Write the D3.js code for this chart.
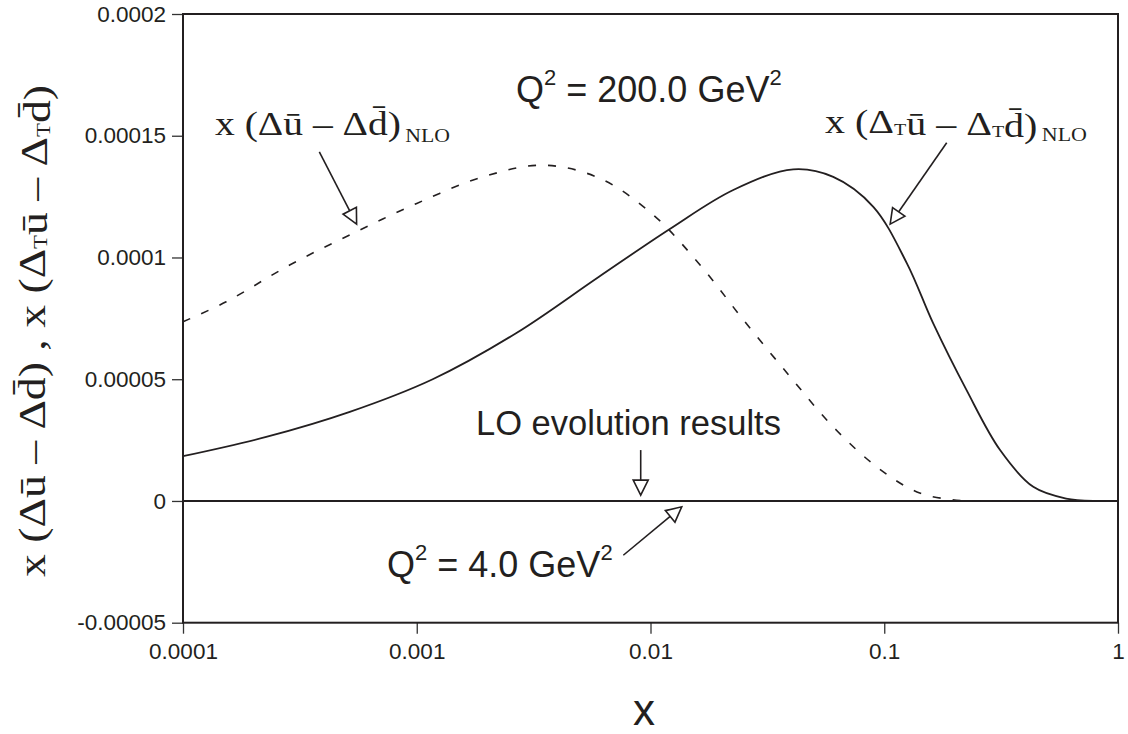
<!DOCTYPE html>
<html>
<head>
<meta charset="utf-8">
<script src="https://cdn.jsdelivr.net/npm/d3@7"></script>
<style>
  html, body { margin: 0; padding: 0; background: #fff; }
  svg { display: block; }
</style>
</head>
<body>
<svg id="chart" width="1128" height="734"></svg>
<script>
// ---------------- data ----------------
const xTickValues = [1e-4, 1e-3, 1e-2, 1e-1, 1];
const xTickLabels = ["0.0001", "0.001", "0.01", "0.1", "1"];
const yTickValues = [-0.00005, 0, 0.00005, 0.0001, 0.00015, 0.0002];
const yTickLabels = ["-0.00005", "0", "0.00005", "0.0001", "0.00015", "0.0002"];

// x (Δū − Δd̄)_NLO  (dashed)
const xNLOflavor = [1e-4, 1.53e-4, 2.86e-4, 5.34e-4, 1.0e-3, 1.92e-3, 3.47e-3, 6.07e-3, 0.0103, 0.0163, 0.025, 0.0396, 0.0605, 0.0929, 0.138, 0.191, 0.25, 0.4, 0.7, 1];
const yNLOflavor = [7.36e-5, 8.18e-5, 9.69e-5, 1.099e-4, 1.222e-4, 1.331e-4, 1.379e-4, 1.325e-4, 1.174e-4, 9.69e-5, 7.43e-5, 5.1e-5, 3.04e-5, 1.40e-5, 3.7e-6, 6e-7, 0, 0, 0, 0];

// x (Δ_T ū − Δ_T d̄)_NLO  (solid)
const xNLOtrans = [1e-4, 2.27e-4, 5.17e-4, 1.17e-3, 2.67e-3, 6.0e-3, 0.0121, 0.0226, 0.0408, 0.0605, 0.0898, 0.125, 0.162, 0.225, 0.313, 0.434, 0.60, 0.83, 1];
const yNLOtrans = [1.84e-5, 2.63e-5, 3.66e-5, 5.0e-5, 6.9e-5, 9.2e-5, 1.117e-4, 1.277e-4, 1.362e-4, 1.331e-4, 1.208e-4, 9.76e-5, 7.29e-5, 4.55e-5, 2.09e-5, 5.8e-6, 1.0e-6, 0, 0];

// LO evolution results (both zero)
const xLO = [1e-4, 1];
const yLO = [0, 0];

// ---------------- layout ----------------
const L = 183, R = 1118, T = 14, B = 622.7;
const ink = "#231f20";
const sans = "'Liberation Sans', Arial, sans-serif";
const serif = "'Liberation Serif', 'Times New Roman', serif";

const svg = d3.select("#chart");
const x = d3.scaleLog().domain([1e-4, 1]).range([L, R]);
const y = d3.scaleLinear().domain([-0.00005, 0.0002]).range([B, T]);

// minor ticks
const xMinor = [];
for (let e = -4; e < 0; e++) for (let k = 2; k <= 9; k++) xMinor.push(k * Math.pow(10, e));
const yMinor = d3.range(-5, 21).filter(i => i % 5 !== 0).map(i => i * 1e-5);

const gx = svg.append("g").attr("transform", `translate(0,${B})`);
gx.call(d3.axisBottom(x).tickValues(xMinor).tickSize(6).tickFormat(""));
gx.call(d3.axisBottom(x).tickValues(xTickValues).tickSize(11).tickPadding(9)
  .tickFormat((d, i) => xTickLabels[i]));
const gy = svg.append("g").attr("transform", `translate(${L},0)`);
gy.call(d3.axisLeft(y).tickValues(yMinor).tickSize(5).tickFormat(""));
gy.call(d3.axisLeft(y).tickValues(yTickValues).tickSize(11).tickPadding(6)
  .tickFormat((d, i) => yTickLabels[i]));
svg.selectAll(".domain").remove();
svg.selectAll(".tick line").attr("stroke", "#333").attr("stroke-width", 1.3);
svg.selectAll(".tick text").attr("fill", ink).style("font-family", sans).style("font-size", "22.5px");

// curves
const line = d3.line().x(d => x(d[0])).y(d => Math.min(y(d[1]), y(0))).curve(d3.curveCatmullRom.alpha(0.5));
const plot = svg.append("g");
plot.append("path").datum(d3.zip(xLO, yLO)).attr("d", line)
  .attr("fill", "none").attr("stroke", ink).attr("stroke-width", 2);
plot.append("path").datum(d3.zip(xNLOflavor, yNLOflavor)).attr("d", line)
  .attr("fill", "none").attr("stroke", ink).attr("stroke-width", 1.6)
  .attr("stroke-dasharray", "8,12");
plot.append("path").datum(d3.zip(xNLOtrans, yNLOtrans)).attr("d", line)
  .attr("fill", "none").attr("stroke", ink).attr("stroke-width", 1.8);

// frame
svg.append("rect").attr("x", L).attr("y", T).attr("width", R - L).attr("height", B - T)
  .attr("fill", "none").attr("stroke", ink).attr("stroke-width", 2);

// ---------------- annotations ----------------
function arrow(x0, y0, x1, y1) {
  const sx = x(x0), sy = y(y0), tx = x(x1), ty = y(y1);
  const dx = tx - sx, dy = ty - sy, len = Math.hypot(dx, dy);
  const ux = dx / len, uy = dy / len, nx = -uy, ny = ux;
  const hl = 15, hw = 7.5;
  const bx = tx - ux * hl, by = ty - uy * hl;
  svg.append("line").attr("x1", sx).attr("y1", sy).attr("x2", bx).attr("y2", by)
    .attr("stroke", ink).attr("stroke-width", 1.6);
  svg.append("path")
    .attr("d", `M${tx},${ty}L${bx + nx * hw},${by + ny * hw}L${bx - nx * hw},${by - ny * hw}Z`)
    .attr("fill", "#fff").attr("stroke", ink).attr("stroke-width", 1.6);
}
arrow(3.83e-4, 1.434e-4, 5.53e-4, 1.137e-4);
arrow(0.185, 1.471e-4, 0.106, 1.137e-4);
arrow(9.08e-3, 2.09e-5, 9.08e-3, 2.4e-6);
arrow(7.65e-3, -2.23e-5, 0.0136, -2.4e-6);

// sans labels with superscripts
function qLabel(px, py, value) {
  const t = svg.append("text").attr("x", px).attr("y", py).attr("fill", ink)
    .style("font-family", sans).style("font-size", "36px");
  t.append("tspan").text("Q");
  t.append("tspan").attr("dy", -17).style("font-size", "22px").text("2");
  t.append("tspan").attr("dy", 17).text(" = " + value + " GeV");
  t.append("tspan").attr("dy", -17).style("font-size", "22px").text("2");
}
qLabel(516, 101.7, "200.0");
qLabel(387, 576.7, "4.0");

svg.append("text").attr("x", 476).attr("y", 435).attr("fill", ink)
  .style("font-family", sans).style("font-size", "34.5px").text("LO evolution results");

// x axis title
svg.append("text").attr("x", 644).attr("y", 725).attr("text-anchor", "middle").attr("fill", ink)
  .style("font-family", sans).style("font-size", "44px").text("x");

// serif formula labels
const dbar = "d\u0304";
function formula(g, parts, size) {
  const t = g.append("text").attr("fill", ink).style("font-family", serif).style("font-size", size + "px");
  parts.forEach(([txt, kind]) => {
    if (kind === "s") {
      t.append("tspan").attr("dy", size * 0.06).style("font-size", (size * 0.5) + "px").text(txt);
      t.append("tspan").attr("dy", -size * 0.06).text("");
    } else if (kind === "sub") {
      t.append("tspan").attr("dy", size * 0.22).style("font-size", (size * 0.55) + "px").text(txt);
    } else {
      t.append("tspan").text(txt);
    }
  });
  return t;
}

// left label
const lab1 = formula(svg, [["x (Δū – Δ" + dbar + ")", "n"], ["\u2009NLO", "sub"]], 34);
lab1.attr("x", 215).attr("y", 135).attr("textLength", 235).attr("lengthAdjust", "spacingAndGlyphs");

// right label
const lab2 = formula(svg, [["x (Δ", "n"], ["T", "s"], ["ū – Δ", "n"], ["T", "s"], [dbar + ")", "n"], ["\u2009NLO", "sub"]], 34);
lab2.attr("x", 825).attr("y", 133).attr("textLength", 262).attr("lengthAdjust", "spacingAndGlyphs");
lab2.selectAll("tspan").filter(function () { return d3.select(this).text() === "\u2009NLO"; }).attr("dy", 4);

// y axis title (rotated)
const yt = formula(svg.append("g").attr("transform", "translate(45,577) rotate(-90)"),
  [["x (Δū – Δ" + dbar + ")  ,  x (Δ", "n"], ["T", "s"], ["ū – Δ", "n"], ["T", "s"], [dbar + ")", "n"]], 38);
yt.attr("x", 0).attr("y", 0).attr("textLength", 492).attr("lengthAdjust", "spacingAndGlyphs");
</script>
</body>
</html>
